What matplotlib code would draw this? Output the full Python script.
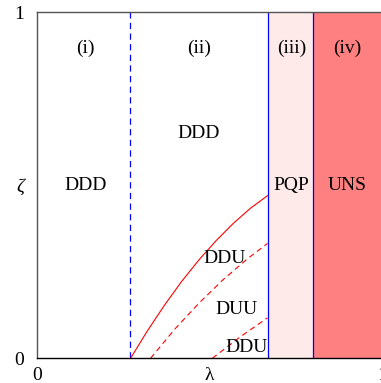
import matplotlib
matplotlib.use("Agg")
import matplotlib.pyplot as plt

plt.rcParams['font.family'] = ['Liberation Serif', 'DejaVu Serif']

# region boundaries in lambda
lam_dashed = 0.27
lam_pqp = 0.669
lam_uns = 0.80

# boundary curves (lambda, zeta)
solid_x = [0.272, 0.32, 0.37, 0.42, 0.47, 0.52, 0.57, 0.62, 0.669]
solid_y = [0.0, 0.078, 0.153, 0.222, 0.284, 0.340, 0.390, 0.434, 0.470]
dash1_x = [0.33, 0.40, 0.47, 0.54, 0.61, 0.669]
dash1_y = [0.0, 0.084, 0.159, 0.227, 0.287, 0.332]
dash2_x = [0.509, 0.59, 0.669]
dash2_y = [0.0, 0.062, 0.117]

# labels: (text, lambda, zeta)
region_labels = [("(i)", 0.14, 0.895), ("(ii)", 0.47, 0.895),
                 ("(iii)", 0.738, 0.895), ("(iv)", 0.899, 0.895)]
phase_labels = [("DDD", 0.142, 0.50), ("DDD", 0.468, 0.651),
                ("PQP", 0.737, 0.50), ("UNS", 0.899, 0.50),
                ("DDU", 0.544, 0.289), ("DUU", 0.578, 0.142),
                ("DDU", 0.607, 0.032)]

W, H = 381, 383
fig = plt.figure(figsize=(W / 100, H / 100), dpi=100)
ax = fig.add_axes([36.7 / W, (H - 358.3) / H, 345 / W, 346 / H])
ax.set_xlim(0, 1)
ax.set_ylim(0, 1)

ax.axvspan(lam_pqp, lam_uns, color='#ffeaea', lw=0)
ax.axvspan(lam_uns, 1, color='#ff8080', lw=0)
ax.axvline(lam_dashed, color='blue', lw=0.9, ls=(0, (5, 3.5)))
ax.axvline(lam_pqp, color='blue', lw=0.9)
ax.axvline(lam_uns, color='blue', lw=0.9)

ax.plot(solid_x, solid_y, color='red', lw=0.8)
ax.plot(dash1_x, dash1_y, color='red', lw=0.8, ls=(0, (5, 3.5)))
ax.plot(dash2_x, dash2_y, color='red', lw=0.8, ls=(0, (5, 3.5)))

for txt, x, y in region_labels + phase_labels:
    ax.text(x, y, txt, fontsize=14, ha='center', va='center')

ax.set_xticks([0, 0.5, 1])
ax.set_xticklabels(['0', 'λ', '1'])
ax.set_yticks([0, 0.5, 1])
ax.set_yticklabels(['0', 'ζ', '1'])
ax.get_yticklabels()[1].set_style('italic')
ax.tick_params(length=0, labelsize=14)
ax.tick_params(axis='y', pad=9)
ax.tick_params(axis='x', pad=6)

ax.spines['top'].set_color('#555555')
ax.spines['left'].set_color('#555555')
ax.spines['bottom'].set_color('black')
for s in ax.spines.values():
    s.set_linewidth(1.0)

fig.savefig('out.png', dpi=100)
